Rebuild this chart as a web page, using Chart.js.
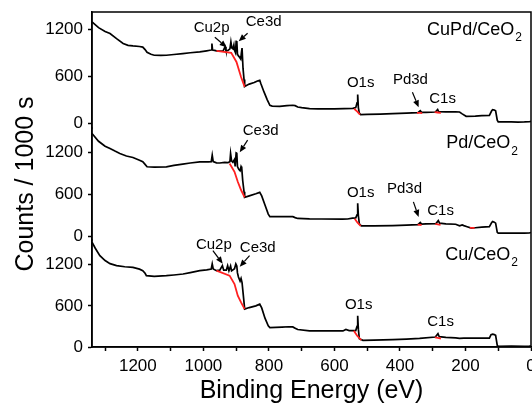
<!DOCTYPE html>
<html>
<head>
<meta charset="utf-8">
<script src="https://cdn.jsdelivr.net/npm/chart.js@4.4.0/dist/chart.umd.min.js"></script>
<style>
  html, body { margin: 0; padding: 0; background: #fff; overflow: hidden; }
  #wrap { width: 532px; height: 404px; position: relative; }
</style>
</head>
<body>
<div id="wrap"><canvas id="xps"></canvas></div>
<script>
// Survey XPS - three samples stacked (top: CuPd, middle: Pd, bottom: Cu)

// tick values
const xTicks = [0, 100, 200, 300, 400, 500, 600, 700, 800, 900, 1000, 1100, 1200, 1300];
const yTicks = [0, 300, 600, 900, 1200];

// CuPd/CeO2 spectrum
const eCuPd = [1340, 1320, 1300, 1285, 1265, 1245, 1230, 1215, 1195, 1185, 1178, 1172, 1160, 1150, 1130, 1113, 1090, 1063, 1040, 1011, 990, 980, 976, 974, 972, 966, 960, 950, 940, 934, 931, 925, 919, 916, 913, 910, 907, 905, 902, 900, 898, 896, 893, 889, 886, 884, 882, 879, 876, 874, 870, 860, 845, 835, 828, 825, 815, 805, 797, 790, 767, 745, 727, 720, 712, 700, 676, 650, 625, 600, 570, 544, 535, 531, 529, 527, 524, 520, 500, 460, 422, 380, 345, 338, 334, 320, 292, 285, 282, 260, 230, 218, 210, 198, 170, 150, 127, 120, 117, 112, 108, 103, 100, 80, 60, 40, 20, 5, 0];
const vCuPd = [1294, 1220, 1170, 1146, 1080, 1018, 995, 987, 980, 972, 940, 905, 880, 868, 866, 868, 878, 890, 900, 911, 925, 932, 935, 1018, 935, 930, 924, 920, 922, 975, 925, 930, 950, 1040, 960, 950, 1000, 930, 900, 1045, 1050, 880, 860, 840, 820, 900, 960, 700, 560, 470, 480, 500, 520, 540, 549, 510, 400, 300, 230, 220, 217, 225, 230, 225, 208, 200, 188, 185, 183, 185, 188, 190, 200, 260, 367, 200, 130, 111, 113, 118, 124, 130, 136, 160, 140, 140, 144, 175, 148, 146, 145, 144, 120, 89, 92, 98, 102, 160, 175, 170, 160, 40, 17, 18, 18, 15, 17, 20, 25];

// Pd/CeO2 spectrum
const ePd = [1340, 1320, 1300, 1285, 1270, 1255, 1235, 1215, 1195, 1185, 1178, 1172, 1150, 1113, 1090, 1063, 1040, 1011, 985, 976, 973, 970, 960, 950, 935, 925, 919, 917, 914, 910, 905, 903, 900, 898, 896, 892, 888, 885, 883, 880, 876, 874, 860, 840, 828, 822, 812, 802, 797, 760, 740, 727, 720, 712, 676, 640, 575, 560, 545, 535, 531, 529, 527, 524, 518, 480, 422, 380, 345, 338, 334, 320, 290, 283, 279, 260, 230, 218, 210, 205, 195, 182, 170, 150, 127, 120, 117, 112, 108, 103, 100, 60, 20, 5, 0];
const vPd = [1471, 1360, 1290, 1257, 1220, 1186, 1150, 1129, 1090, 1067, 1030, 996, 990, 996, 1015, 1034, 1050, 1067, 1067, 1070, 1162, 1070, 1053, 1050, 1060, 1055, 1070, 1186, 1080, 1060, 1100, 1000, 1195, 1190, 1000, 960, 940, 1000, 980, 800, 640, 560, 580, 610, 630, 580, 450, 320, 284, 284, 286, 284, 270, 258, 252, 250, 247, 250, 262, 265, 310, 475, 300, 180, 152, 153, 156, 162, 170, 200, 178, 180, 185, 228, 190, 180, 175, 152, 165, 155, 140, 119, 125, 135, 142, 200, 213, 205, 190, 60, 48, 48, 48, 50, 58];

// Cu/CeO2 spectrum
const eCu = [1340, 1330, 1316, 1300, 1285, 1265, 1240, 1215, 1195, 1185, 1178, 1174, 1150, 1113, 1090, 1062, 1040, 1011, 990, 976, 973, 970, 960, 950, 942, 938, 930, 926, 922, 917, 914, 905, 901, 898, 896, 893, 888, 885, 882, 878, 874, 860, 840, 828, 822, 812, 802, 797, 760, 740, 727, 720, 712, 676, 640, 600, 574, 565, 555, 535, 531, 529, 527, 524, 513, 480, 422, 380, 340, 292, 284, 280, 260, 230, 218, 205, 195, 150, 127, 122, 117, 112, 108, 103, 100, 60, 20, 5, 0];
const vCu = [1527, 1440, 1332, 1260, 1215, 1186, 1170, 1161, 1135, 1113, 1075, 1040, 1030, 1040, 1050, 1064, 1085, 1113, 1125, 1137, 1211, 1137, 1113, 1120, 1186, 1120, 1120, 1186, 1110, 1180, 1110, 1140, 1211, 1180, 1080, 1020, 960, 1000, 940, 750, 552, 575, 600, 625, 570, 420, 310, 283, 290, 295, 293, 275, 255, 234, 234, 234, 234, 255, 240, 240, 300, 454, 260, 120, 98, 100, 107, 115, 125, 146, 195, 150, 140, 132, 127, 128, 128, 128, 128, 180, 186, 180, 170, 25, 10, 12, 10, 12, 15];

// backgrounds (red) under the peaks
const bgCuPd = [
  [[960, 924], [915, 898], [899, 783], [885, 591], [874, 464]],
  [[540, 186], [530, 150], [522, 111]],
  [[348, 134], [340, 132], [332, 130]],
  [[294, 142], [285, 138], [275, 134]]
];
const bgPd = [
  [[920, 1044], [905, 925], [895, 782], [885, 664], [874, 560]],
  [[538, 255], [530, 200], [520, 152]],
  [[346, 170], [340, 166], [334, 164]],
  [[292, 182], [284, 174], [276, 168]],
  [[187, 124], [180, 122], [172, 124]]
];
const bgCu = [
  [[960, 1113], [920, 1040], [905, 918], [895, 747], [885, 650], [874, 552]],
  [[541, 238], [530, 160], [518, 100]],
  [[293, 142], [284, 132], [275, 124]]
];

// peak labels [panel, energy, counts, text]
const peakLabels = [
  ['y1', 975, 1213, 'Cu2p'], ['y1', 816, 1290, 'Ce3d'], ['y1', 520, 511, 'O1s'], ['y1', 368, 549, 'Pd3d'], ['y1', 270, 307, 'C1s'],
  ['y2', 825, 1504, 'Ce3d'], ['y2', 520, 622, 'O1s'], ['y2', 386, 679, 'Pd3d'], ['y2', 276, 366, 'C1s'],
  ['y3', 968, 1493, 'Cu2p'], ['y3', 834, 1450, 'Ce3d'], ['y3', 526, 615, 'O1s'], ['y3', 276, 366, 'C1s']
];
// arrows [panel, e0, v0, e1, v1]
const arrows = [
  ['y1', 965, 1098, 929, 971], ['y1', 865, 1149, 892, 1047], ['y1', 362, 396, 343, 204],
  ['y2', 865, 1376, 889, 1205], ['y2', 359, 494, 343, 280],
  ['y3', 971, 1406, 941, 1215], ['y3', 859, 1332, 889, 1171]
];
// sample names [panel, energy (right end), counts, text]
const sampleNames = [
  ['y1', 28, 1188, 'CuPd/CeO'],
  ['y2', 40, 1333, 'Pd/CeO'],
  ['y3', 40, 1347, 'Cu/CeO']
];

const FONT = "'Liberation Sans', Arial, sans-serif";

function pts(es, vs) {
  return es.map((e, i) => ({ x: e, y: vs[i] }));
}

const datasets = [];
function addBg(list, axis) {
  list.forEach(seg => {
    datasets.push({
      data: seg.map(p => ({ x: p[0], y: p[1] })),
      yAxisID: axis,
      borderColor: '#ff2020',
      borderWidth: 1.8
    });
  });
}
addBg(bgCuPd, 'y1');
addBg(bgPd, 'y2');
addBg(bgCu, 'y3');
datasets.push({ data: pts(eCuPd, vCuPd), yAxisID: 'y1', borderColor: '#000', borderWidth: 1.7 });
datasets.push({ data: pts(ePd, vPd), yAxisID: 'y2', borderColor: '#000', borderWidth: 1.7 });
datasets.push({ data: pts(eCu, vCu), yAxisID: 'y3', borderColor: '#000', borderWidth: 1.7 });

function yAxis(min, max, weight, withTitle) {
  return {
    type: 'linear',
    position: 'left',
    stack: 'panels',
    stackWeight: weight,
    min: min,
    max: max,
    afterBuildTicks: axis => { axis.ticks = yTicks.map(v => ({ value: v })); },
    afterFit: axis => { axis.width = 92; axis.paddingTop = 0; axis.paddingBottom = 0; },
    border: { color: '#000', width: 1.5 },
    grid: { drawOnChartArea: false, drawTicks: true, tickLength: 4, tickColor: '#000', tickWidth: 1.5 },
    ticks: {
      color: '#000',
      padding: 5,
      font: { family: FONT, size: 17 },
      callback: v => (v % 600 === 0 ? String(v) : '')
    },
    title: {
      display: withTitle,
      text: 'Counts / 1000 s',
      color: '#000',
      font: { family: FONT, size: 25, lineHeight: 1 },
      padding: { top: 14, bottom: 0 }
    }
  };
}

// frame and text annotations
const decorPlugin = {
  id: 'decor',
  afterDatasetsDraw(chart) {
    const ctx = chart.ctx;
    const xs = chart.scales.x;
    const a = chart.chartArea;
    ctx.save();
    ctx.strokeStyle = '#000';
    ctx.lineWidth = 1.5;
    ctx.strokeRect(a.left, a.top, a.right - a.left, a.bottom - a.top);

    ctx.fillStyle = '#000';
    ctx.textAlign = 'center';
    ctx.textBaseline = 'middle';
    ctx.font = '15px ' + FONT;
    peakLabels.forEach(l => {
      const ys = chart.scales[l[0]];
      ctx.fillText(l[3], xs.getPixelForValue(l[1]), ys.getPixelForValue(l[2]));
    });

    ctx.lineWidth = 1.2;
    arrows.forEach(ar => {
      const ys = chart.scales[ar[0]];
      const x0 = xs.getPixelForValue(ar[1]), y0 = ys.getPixelForValue(ar[2]);
      const x1 = xs.getPixelForValue(ar[3]), y1 = ys.getPixelForValue(ar[4]);
      const ang = Math.atan2(y1 - y0, x1 - x0);
      const hl = 7, hw = 3;
      const bx = x1 - hl * Math.cos(ang), by = y1 - hl * Math.sin(ang);
      ctx.beginPath();
      ctx.moveTo(x0, y0);
      ctx.lineTo(bx, by);
      ctx.stroke();
      ctx.beginPath();
      ctx.moveTo(x1, y1);
      ctx.lineTo(bx + hw * Math.sin(ang), by - hw * Math.cos(ang));
      ctx.lineTo(bx - hw * Math.sin(ang), by + hw * Math.cos(ang));
      ctx.closePath();
      ctx.fill();
    });

    sampleNames.forEach(s => {
      const ys = chart.scales[s[0]];
      const xr = xs.getPixelForValue(s[1]);
      const yc = ys.getPixelForValue(s[2]);
      ctx.font = '12px ' + FONT;
      const w2 = ctx.measureText('2').width;
      ctx.textAlign = 'left';
      ctx.fillText('2', xr - w2, yc + 8);
      ctx.font = '18px ' + FONT;
      ctx.textAlign = 'right';
      ctx.fillText(s[3], xr - w2 - 1, yc);
    });
    ctx.restore();
  }
};

new Chart(document.getElementById('xps'), {
  type: 'line',
  data: { datasets: datasets },
  options: {
    responsive: true,
    maintainAspectRatio: false,
    animation: false,
    devicePixelRatio: 1,
    layout: { padding: { top: 12, right: 1, bottom: 0, left: 0 } },
    elements: { point: { radius: 0 }, line: { tension: 0 } },
    plugins: { legend: { display: false }, tooltip: { enabled: false } },
    scales: {
      x: {
        type: 'linear',
        reverse: true,
        min: 0,
        max: 1340,
        afterBuildTicks: axis => { axis.ticks = xTicks.map(v => ({ value: v })); },
        afterFit: axis => { axis.height = 57; axis.paddingLeft = 0; axis.paddingRight = 0; },
        border: { color: '#000', width: 1.5 },
        grid: { drawOnChartArea: false, drawTicks: true, tickLength: 4, tickColor: '#000', tickWidth: 1.5 },
        ticks: {
          color: '#000',
          padding: 5,
          maxRotation: 0,
          autoSkip: false,
          font: { family: FONT, size: 17 },
          callback: v => (v % 200 === 0 ? String(v) : '')
        },
        title: {
          display: true,
          text: 'Binding Energy (eV)',
          color: '#000',
          font: { family: FONT, size: 25, lineHeight: 1 },
          padding: { top: 0, bottom: 0 }
        }
      },
      // stacked axes are laid out bottom-up, so the bottom panel goes first
      y3: yAxis(0, 1560, 107, false),
      y2: yAxis(-50, 1550, 112, true),
      y1: yAxis(-60, 1420, 116, false)
    }
  },
  plugins: [decorPlugin]
});
</script>
</body>
</html>
